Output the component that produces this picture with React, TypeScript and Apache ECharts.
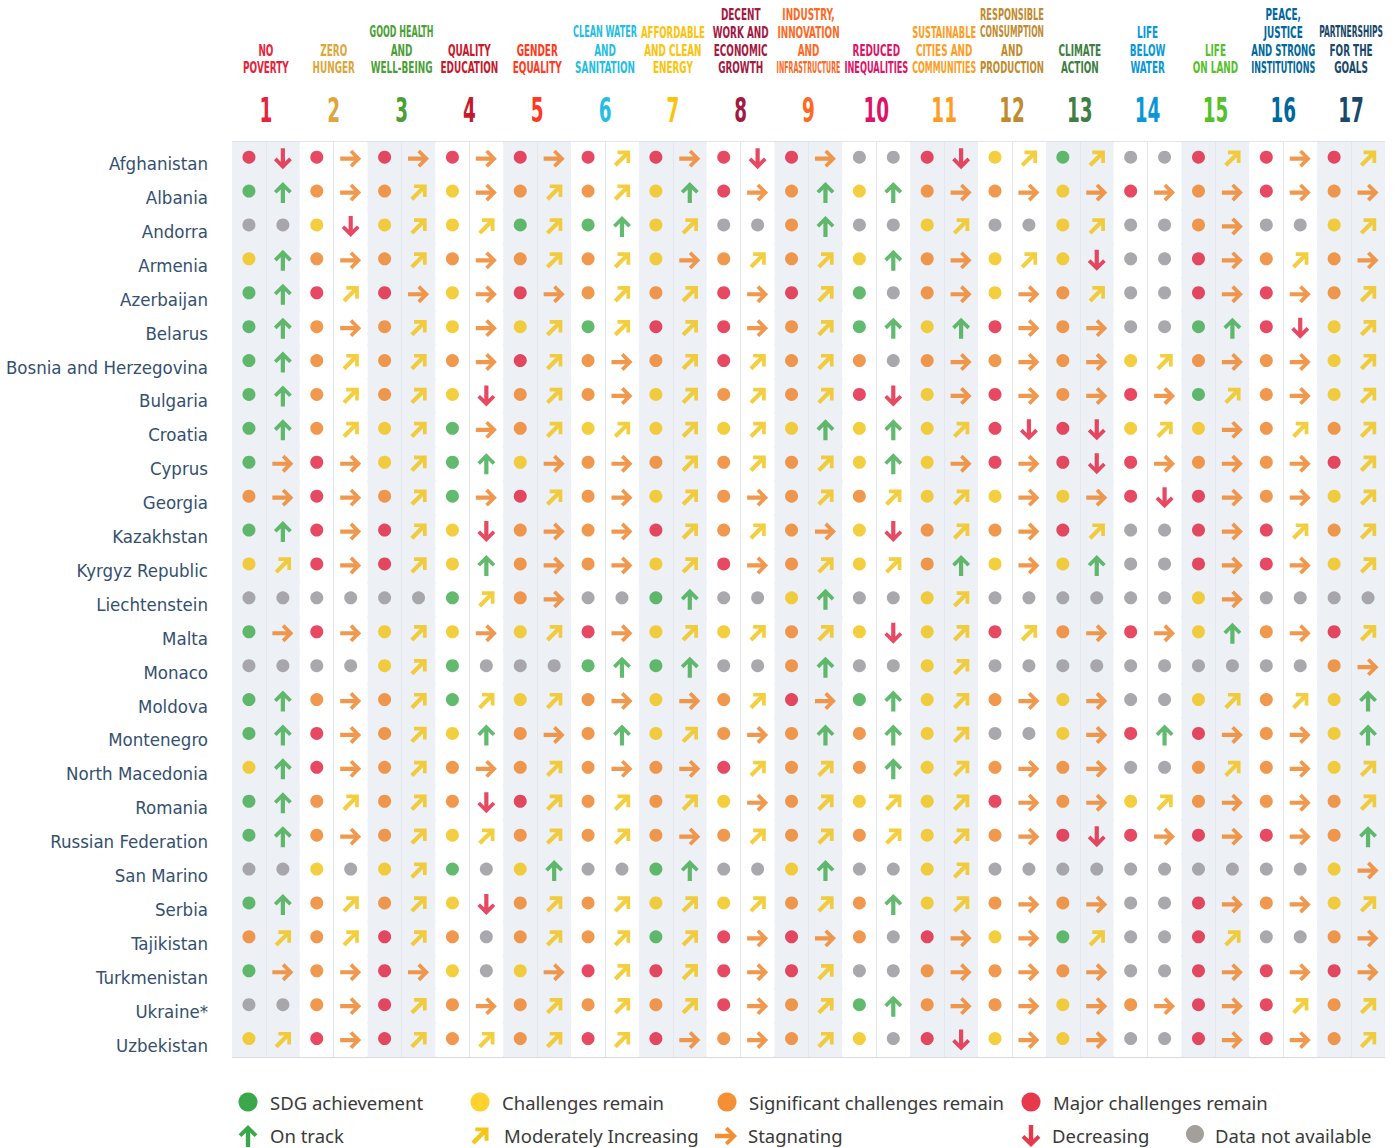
import React, { useEffect, useRef } from "react";
import * as echarts from "echarts";

const countries = [
  "Afghanistan", "Albania", "Andorra", "Armenia", "Azerbaijan", "Belarus",
  "Bosnia and Herzegovina", "Bulgaria", "Croatia", "Cyprus", "Georgia",
  "Kazakhstan", "Kyrgyz Republic", "Liechtenstein", "Malta", "Monaco",
  "Moldova", "Montenegro", "North Macedonia", "Romania", "Russian Federation",
  "San Marino", "Serbia", "Tajikistan", "Turkmenistan", "Ukraine*", "Uzbekistan",
];

const goalNumbers = ["1", "2", "3", "4", "5", "6", "7", "8", "9", "10", "11", "12", "13", "14", "15", "16", "17"];

const goalTitles = [
  ["NO", "POVERTY"],
  ["ZERO", "HUNGER"],
  ["GOOD HEALTH", "AND", "WELL-BEING"],
  ["QUALITY", "EDUCATION"],
  ["GENDER", "EQUALITY"],
  ["CLEAN WATER", "AND", "SANITATION"],
  ["AFFORDABLE", "AND CLEAN", "ENERGY"],
  ["DECENT", "WORK AND", "ECONOMIC", "GROWTH"],
  ["INDUSTRY,", "INNOVATION", "AND", "INFRASTRUCTURE"],
  ["REDUCED", "INEQUALITIES"],
  ["SUSTAINABLE", "CITIES AND", "COMMUNITIES"],
  ["RESPONSIBLE", "CONSUMPTION", "AND", "PRODUCTION"],
  ["CLIMATE", "ACTION"],
  ["LIFE", "BELOW", "WATER"],
  ["LIFE", "ON LAND"],
  ["PEACE,", "JUSTICE", "AND STRONG", "INSTITUTIONS"],
  ["PARTNERSHIPS", "FOR THE", "GOALS"],
];

const goalColors = [
  "#E5243B", "#DDA63A", "#4C9F38", "#C5192D", "#FF3A21", "#26BDE2", "#FCC30B",
  "#A21942", "#FD6925", "#DD1367", "#FD9D24", "#BF8B2E", "#3F7E44", "#0A97D9",
  "#56C02B", "#00689D", "#19486A",
];

// Each code: status letter (G/Y/O/R/N) + trend letter (U/M/S/D/N), one per goal
const dashboard = [
  "RD RS RS RS RS RM RS RD RS NN RD YM GM NN RM RS RM",
  "GU OS OM YS OM OM YU RS OU YU OS OS YS RS OS RS OS",
  "NN YD YM YM GM GU YM NN OU NN YM NN YM NN OS NN YM",
  "YU OS OM OS OM OM YS OM OM YU OS YM YD NN RS OM OS",
  "GU RM RS YS RS OM OM RS RM GN OS YS OM NN RS RS OM",
  "GU OS OM YS YM GM RM RS OM GU YU RS OS NN GU RD YM",
  "GU OM OM OS RM OS OM RM OM ON OS OS OS YM OS OS YM",
  "GU OM OM YD OM OS YM OM OM RD YS RS OS RS GM OS YM",
  "GU OM YM GS OM YM YM YM YU YU YM RD RD YM YS OM OM",
  "GS RS YM GU YS OS OM OM OM YU YS RS RD RS OS OS RM",
  "OS RS OM GS RM OS YM OS OM OM YM YS YS RD RS OS YM",
  "GU RS RM YD OS OS RM OM OS YD OM OS RM NN RS RM OM",
  "YM RS RM YU OS OS YM RS OM YM OU YS YU NN RS RS YM",
  "NN NN NN GM OS NN GU NN YU NN YM NN NN NN YS NN NN",
  "GS RS YM YS YM RS YM YM OM YD YM RM OS RS YU OS RM",
  "NN NN YM GN NN GU GU NN OU NN YM NN NN NN NN NN OS",
  "GU OS OM GM YM OS YS OM RS GU YM OS YS NN YM OM YU",
  "GU RS OM YU OS OU YM OS OU OU YM NN YS RU RS OS YU",
  "YU RS OM OS OM OS OS RM OM OU YM OS OS NN OM OS YM",
  "GU OM OM OD RM OM OM YS OM YM YM RS OS YM OS OS OM",
  "GU OS OM YM OM OM OS OM OM OM YM OS RD RS RS RS OU",
  "NN YN YM GN YU NN GU NN YU NN YM NN NN NN NN NN YS",
  "GU OM OM YD OM OM YM YM OM OU YM OS OS NN RS OS YM",
  "OM OM RM ON OM OM GM RS RS ON RS YS GM NN RM NN OS",
  "GS OS RS YN YS RM RM RS RM NN OS OS OS NN RS RS RS",
  "NN OS RM OS OM OM OM RS OM GU OS OS YS OS RS RM OM",
  "YM RS RM OM OM RM RS OS OM YN RD YS YS NN RS RS OM",
];

const statusLabels = ["SDG achievement", "Challenges remain", "Significant challenges remain", "Major challenges remain"];
const trendLabels = ["On track", "Moderately Increasing", "Stagnating", "Decreasing", "Data not available"];

const statusColor: Record<string, string> = {
  G: "#3aa948", Y: "#f0c20f", O: "#ec8022", R: "#e01b3a", N: "#939498",
};
const trendColor: Record<string, string> = {
  U: "#3aa948", M: "#f0c20f", S: "#ec8022", D: "#e01b3a", N: "#939498",
};

// layout constants
const W = 1395, H = 1148;
const GRID_LEFT = 232, GRID_TOP = 141.7, GRID_W = 1153, ROW_H = 33.9;
const COL_W = GRID_W / 17;
const NARROW = '"DejaVu Sans Condensed", "Liberation Sans Narrow", sans-serif';

type Pt = [number, number];
const UP: Pt[] = [[10, 0], [18.5, 8.5], [16, 11], [12, 7], [12, 20], [8, 20], [8, 7], [4, 11], [1.5, 8.5]];
const DOWN: Pt[] = UP.map(([x, y]) => [x, 20 - y]);
const RIGHT: Pt[] = UP.map(([x, y]) => [20 - y, x]);
const c45 = Math.SQRT1_2;
const DIAG: Pt[] = UP.map(([x, y]) => {
  const dx = x - 10, dy = y - 10;
  return [10 + (dx - dy) * c45, 10 + (dx + dy) * c45];
});

function bbox(pts: Pt[]) {
  const xs = pts.map((p) => p[0]), ys = pts.map((p) => p[1]);
  const x0 = Math.min(...xs), x1 = Math.max(...xs), y0 = Math.min(...ys), y1 = Math.max(...ys);
  return { x0, x1, y0, y1, w: x1 - x0, h: y1 - y0 };
}
function toPath(pts: Pt[]) {
  return "path://M" + pts.map((p) => p[0].toFixed(2) + " " + p[1].toFixed(2)).join(" L") + " Z";
}
const arrowShapes: Record<string, Pt[]> = { U: UP, D: DOWN, S: RIGHT, M: DIAG };
const ARROW_K = 1.05;

function legendPolygon(pts: Pt[], cx: number, cy: number, s: number, color: string) {
  const b = bbox(pts);
  const mx = (b.x0 + b.x1) / 2, my = (b.y0 + b.y1) / 2;
  return {
    type: "polygon",
    shape: { points: pts.map(([x, y]) => [cx + (x - mx) * s, cy + (y - my) * s]) },
    style: { fill: color },
    silent: true,
  };
}

function buildOption() {
  const dotData: any[] = [];
  const trendData: any[] = [];
  dashboard.forEach((row, ci) => {
    row.split(" ").forEach((code, gi) => {
      const s = code[0], t = code[1];
      dotData.push({ value: [gi + 0.25, ci], itemStyle: { color: statusColor[s] } });
      if (t === "N") {
        trendData.push({
          value: [gi + 0.75, ci], symbol: "circle", symbolSize: 13, symbolOffset: [0, -1.5],
          itemStyle: { color: trendColor.N },
        });
      } else {
        const pts = arrowShapes[t];
        const b = bbox(pts);
        trendData.push({
          value: [gi + 0.75, ci], symbol: toPath(pts),
          symbolSize: [b.w * ARROW_K, b.h * ARROW_K],
          itemStyle: { color: trendColor[t] },
        });
      }
    });
  });

  const ctx = document.createElement("canvas").getContext("2d")!;
  const headFont = "bold 15px " + NARROW;
  const numFont = "bold 33px " + NARROW;

  const graphics: any[] = [];
  goalTitles.forEach((lines, gi) => {
    const cx = GRID_LEFT + COL_W * (gi + 0.5);
    const n = lines.length;
    lines.forEach((ln, li) => {
      ctx.font = headFont;
      const w = ctx.measureText(ln).width;
      const sx = Math.min(0.66, 64 / w);
      graphics.push({
        type: "text", x: cx, y: 68 - (n - 1 - li) * 17.8, scaleX: sx, silent: true,
        style: {
          text: ln, fill: goalColors[gi], font: headFont,
          textAlign: "center", textVerticalAlign: "middle", align: "center", verticalAlign: "middle",
        },
      });
    });
    graphics.push({
      type: "text", x: cx, y: 111, scaleX: 0.62, silent: true,
      style: {
        text: goalNumbers[gi], fill: goalColors[gi], font: numFont,
        textAlign: "center", textVerticalAlign: "middle", align: "center", verticalAlign: "middle",
      },
    });
  });

  // legend
  const legFont = '18.5px "Noto Sans", sans-serif';
  const legStatusColors = ["#3aa84a", "#fdd12e", "#f58f33", "#e8384b"];
  const legStatusX = [248, 480, 727, 1031];
  statusLabels.forEach((lab, i) => {
    graphics.push({ type: "circle", shape: { cx: legStatusX[i], cy: 1102, r: 9.5 }, style: { fill: legStatusColors[i] }, silent: true });
    graphics.push({
      type: "text", x: legStatusX[i] + 22, y: 1102, silent: true,
      style: { text: lab, fill: "#3a3a3a", font: legFont, textAlign: "left", textVerticalAlign: "middle", align: "left", verticalAlign: "middle" },
    });
  });
  const legTrend = [
    { key: "U", x: 248, tx: 270, color: "#3aa84a" },
    { key: "M", x: 480, tx: 504, color: "#f5c518" },
    { key: "S", x: 726, tx: 748, color: "#f58f33" },
    { key: "D", x: 1031, tx: 1052, color: "#e8384b" },
    { key: "N", x: 1195, tx: 1215, color: "#a39f9b" },
  ];
  legTrend.forEach((lt, i) => {
    if (lt.key === "N") {
      graphics.push({ type: "circle", shape: { cx: lt.x, cy: 1134, r: 9 }, style: { fill: lt.color }, silent: true });
    } else {
      graphics.push(legendPolygon(arrowShapes[lt.key], lt.x, 1136, 1.1, lt.color));
    }
    graphics.push({
      type: "text", x: lt.tx, y: 1135, silent: true,
      style: { text: trendLabels[i], fill: "#3a3a3a", font: legFont, textAlign: "left", textVerticalAlign: "middle", align: "left", verticalAlign: "middle" },
    });
  });

  return {
    animation: false,
    backgroundColor: "#ffffff",
    grid: {
      left: GRID_LEFT, top: GRID_TOP, width: GRID_W, height: ROW_H * countries.length,
      containLabel: false, outerBoundsMode: "none",
    },
    xAxis: {
      type: "value", min: 0, max: 17, interval: 1,
      axisLine: { show: false }, axisTick: { show: false }, axisLabel: { show: false },
      splitLine: { show: false },
      splitArea: { show: true, areaStyle: { color: ["#edf0f5", "#ffffff"] } },
    },
    yAxis: {
      type: "category", data: countries, inverse: true,
      axisLine: { show: false }, axisTick: { show: false },
      axisLabel: {
        fontFamily: NARROW,
        fontSize: 18.5, color: "#34506e", margin: 24,
        verticalAlign: "top", lineHeight: 10,
      },
      splitLine: { show: true, lineStyle: { color: "#cdd0d4", width: 1.5 } },
    },
    series: [
      {
        type: "scatter", data: dotData, symbol: "circle", symbolSize: 13, symbolOffset: [0, -1.5],
        silent: true, z: 3,
        markLine: {
          silent: true, symbol: ["none", "none"], label: { show: false },
          lineStyle: { color: "#e3e6eb", width: 1, type: "solid" },
          data: goalNumbers.map((_, i) => ({ xAxis: i + 0.5 })),
        },
      },
      { type: "scatter", data: trendData, silent: true, z: 3 },
    ],
    graphic: { elements: graphics },
  };
}

export default function App() {
  const ref = useRef<HTMLDivElement>(null);
  useEffect(() => {
    document.body.style.margin = "0";
    const chart = echarts.init(ref.current!, null, { renderer: "svg" });
    chart.setOption(buildOption() as any);
    return () => chart.dispose();
  }, []);
  return <div ref={ref} style={{ width: W, height: H }} />;
}
